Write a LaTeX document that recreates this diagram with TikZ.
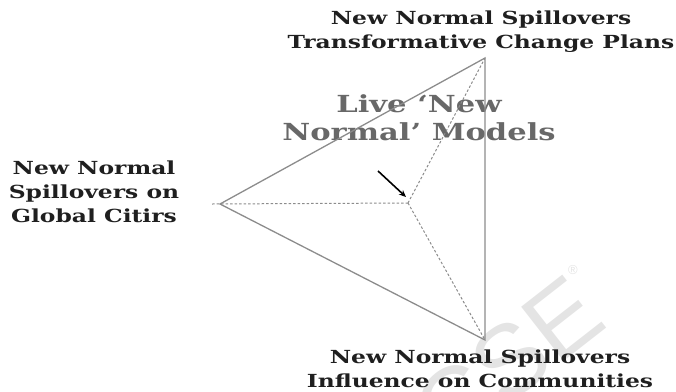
\documentclass[tikz,border=0pt]{standalone}
\usepackage{fontspec}
\setmainfont{DejaVu Serif}
\newfontfamily\widefont[FakeStretch=1.3]{DejaVu Serif}
\newfontfamily\stampfont{Liberation Sans}
\usetikzlibrary{arrows.meta}
\definecolor{edgegray}{HTML}{8C8C8C}
\definecolor{titlegray}{HTML}{686868}
\definecolor{markgray}{HTML}{E4E4E4}
\begin{document}
\begin{tikzpicture}[x=1pt,y=-1pt,
  label/.style={font=\widefont\bfseries\fontsize{18}{24}\selectfont, align=center, inner sep=0pt, text=black!88},
  side/.style={draw=edgegray, line width=1.3pt},
  spoke/.style={draw=edgegray, line width=1pt, dash pattern=on 2.5pt off 2pt},
]
\useasboundingbox (0,0) rectangle (676,391);
% faint stamp behind everything
\node[font=\stampfont\fontsize{100}{100}\selectfont, text=markgray, rotate=38, inner sep=0pt] (stamp) at (508,362) {CSE};
\node[font=\stampfont\fontsize{13}{13}\selectfont, text=markgray, inner sep=0pt] (reg) at (573,270) {\textregistered};
% triangle corners and centre
\coordinate (T) at (485,58);
\coordinate (L) at (220,204);
\coordinate (B) at (485,340);
\coordinate (C) at (408,203);
\coordinate (Lx) at (212,204);
% central title
\node[font=\widefont\bfseries\fontsize{23.5}{28}\selectfont, text=titlegray, align=center, inner sep=0pt] (title) at (419,118) {Live ‘New\\Normal’ Models};
% sides
\draw[side] (L) -- (T) -- (B) -- cycle;
% spokes
\draw[spoke] (C) -- (Lx);
\draw[spoke] (C) -- (T);
\draw[spoke] (C) -- (B);
% pointer
\coordinate (ps) at (378,171);
\coordinate (pe) at (406,197);
\draw[line width=1.6pt, -{Stealth[length=7pt,width=6pt]}] (ps) -- (pe);
% corner labels
\node[label] (top) at (481,32) {New Normal Spillovers\\Transformative Change Plans};
\node[label] (left) at (94,192) {New Normal\\Spillovers on\\Global Citirs};
\node[label] (bottom) at (480,369) {New Normal Spillovers\\Influence on Communities};
\end{tikzpicture}
\end{document}
